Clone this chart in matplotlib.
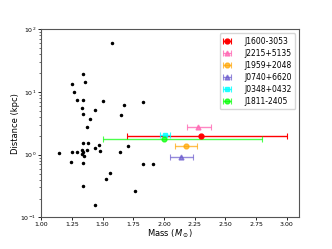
import matplotlib
matplotlib.use("Agg")
import matplotlib.pyplot as plt
import numpy as np

# Background pulsars (mass, distance kpc)
bg_mass = [1.579, 1.342, 1.359, 1.250, 1.269, 1.291, 1.342, 1.500, 1.831, 1.672,
           1.332, 1.440, 1.342, 1.650, 1.399, 1.370,
           1.340, 1.383, 1.470, 1.440, 1.332, 1.370, 1.709, 1.481, 1.142, 1.250,
           1.291, 1.337, 1.329, 1.350, 1.639, 1.240, 1.340, 1.831, 1.910, 1.560,
           1.530, 1.340, 1.761, 1.440]
bg_dist = [60.1, 19.6, 14.3, 13.4, 10.0, 7.44, 7.44, 7.26, 7.0, 6.1,
           5.6, 5.2, 4.54, 4.38, 3.78, 2.75,
           1.54, 1.54, 1.45, 1.28, 1.20, 1.19, 1.36, 1.13, 1.06, 1.09,
           1.09, 1.10, 1.04, 0.96, 1.09, 0.755, 0.728, 0.70, 0.70, 0.515,
           0.41, 0.315, 0.265, 0.156]

# Highlighted pulsars
names = ["J1600-3053", "J2215+5135", "J1959+2048", "J0740+6620", "J0348+0432", "J1811-2405"]
masses = [2.30, 2.28, 2.18, 2.14, 2.01, 2.00]
err_lo = [0.60, 0.09, 0.09, 0.09, 0.04, 0.50]
err_hi = [0.70, 0.10, 0.09, 0.10, 0.04, 0.80]
dists = [2.0, 2.78, 1.39, 0.92, 2.1, 1.8]
colors = ["red", "hotpink", "orange", "slateblue", "cyan", "lime"]
markers = ["o", "^", "o", "^", "s", "o"]
alphas = [1.0, 0.8, 0.7, 0.7, 0.8, 0.7]

fig = plt.figure(figsize=(3.32, 2.49), dpi=100)
ax = fig.add_axes([0.124, 0.127, 0.777, 0.755])

ax.plot(bg_mass, bg_dist, "k.", markersize=3, linestyle="none")

for n, m, lo, hi, d, c, mk, a in zip(names, masses, err_lo, err_hi, dists, colors, markers, alphas):
    ax.errorbar([m], [d], xerr=[[lo], [hi]], fmt=mk, color=c, ecolor=c, alpha=a,
                markersize=3.5, capsize=2.5, elinewidth=1, capthick=0.8, label=n)

ax.set_yscale("log")
ax.set_xlim(1.0, 3.1)
ax.set_ylim(0.1, 100)
ax.set_xticks([1.00, 1.25, 1.50, 1.75, 2.00, 2.25, 2.50, 2.75, 3.00])
ax.tick_params(labelsize=4.5, width=0.6, length=2, pad=1.5)
ax.tick_params(which="minor", width=0.4, length=1.2)
ax.set_xlabel(r"Mass ($M_\odot$)", fontsize=6, labelpad=0.5)
ax.set_ylabel("Distance (kpc)", fontsize=6, labelpad=0.5)
for s in ax.spines.values():
    s.set_linewidth(0.8)
    s.set_color("#555555")

ax.legend(loc="upper right", fontsize=5.5, handlelength=0.9, handletextpad=1.8,
          borderpad=0.5, labelspacing=0.38, framealpha=0.8, edgecolor="#cccccc",
          borderaxespad=0.5)

fig.savefig("out.png", dpi=100)
